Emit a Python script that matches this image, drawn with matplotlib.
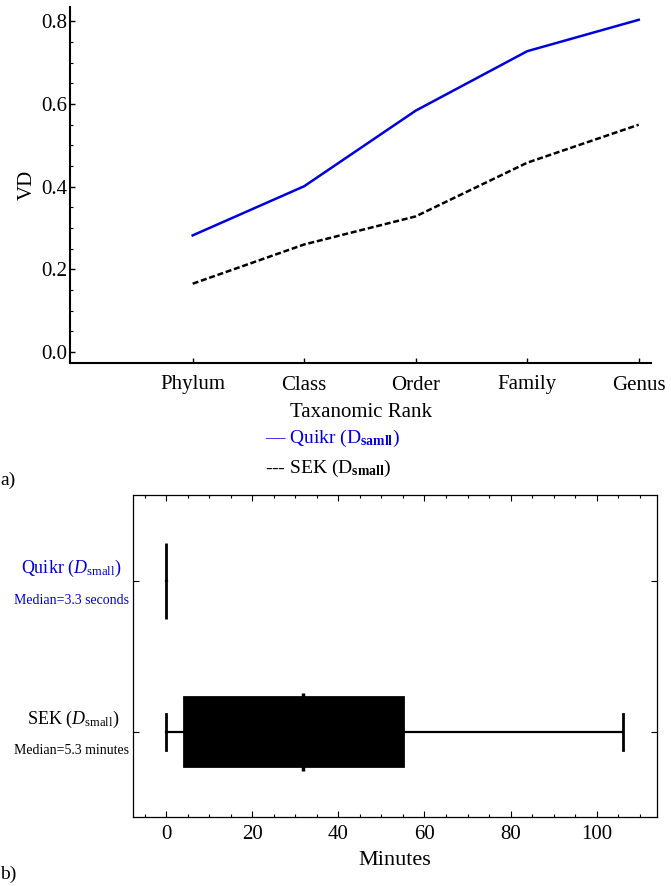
import matplotlib
matplotlib.use("Agg")
import matplotlib.pyplot as plt
from matplotlib.ticker import FormatStrFormatter, MultipleLocator

plt.rcParams["font.family"] = ["Liberation Serif", "DejaVu Serif"]
plt.rcParams["mathtext.fontset"] = "custom"
plt.rcParams["mathtext.rm"] = "Liberation Serif"
plt.rcParams["mathtext.it"] = "Liberation Serif:italic"
plt.rcParams["mathtext.bf"] = "Liberation Serif:bold"

# (a) variational distance per taxonomic rank
ranks = ["Phylum", "Class", "Order", "Family", "Genus"]
quikr_vd = [0.282, 0.401, 0.584, 0.728, 0.804]
sek_vd = [0.165, 0.260, 0.328, 0.458, 0.550]

# (b) running time in minutes: low whisker, q1, median line, q3, high whisker
rows = ["SEK", "Quikr"]
sek_minutes = [0.0, 4.2, 31.8, 55.0, 106.0]
quikr_minutes = [0.03, 0.045, 0.055, 0.07, 0.1]

W, H = 671, 886
fig = plt.figure(figsize=(W / 100, H / 100), dpi=100)

blue = "#0000dd"

# ---- top panel
ax1 = fig.add_axes([70 / W, 1 - 363 / H, (651 - 70) / W, (363 - 7) / H])
x = list(range(len(ranks)))
ax1.plot(x, quikr_vd, color=blue, lw=1.8)
ax1.plot(x, sek_vd, color="black", lw=1.8, ls=(0, (2.4, 1.1)))
ax1.set_xlim(-1.10, 4.11)
ax1.set_ylim(-0.027, 0.835)
ax1.spines["top"].set_visible(False)
ax1.spines["right"].set_visible(False)
for side in ("left", "bottom"):
    ax1.spines[side].set_linewidth(1.5)
ax1.set_xticks(x, ranks)
ax1.yaxis.set_major_locator(MultipleLocator(0.2))
ax1.yaxis.set_minor_locator(MultipleLocator(0.05))
ax1.yaxis.set_major_formatter(FormatStrFormatter("%.1f"))
ax1.tick_params(which="major", direction="in", length=3.5, width=1, labelsize=15)
ax1.tick_params(axis="x", pad=9)
ax1.tick_params(axis="y", pad=2)
ax1.tick_params(which="minor", direction="in", length=2, width=0.8)
ax1.set_ylabel("VD", fontsize=15, labelpad=3)
ax1.set_xlabel("Taxanomic Rank", fontsize=15, labelpad=6)

fig.text(265 / W, 1 - 438 / H, r"— Quikr (D$_{\mathbf{samll}}$)", color=blue,
         fontsize=14, ha="left", va="center")
fig.text(265 / W, 1 - 468 / H, r"--- SEK (D$_{\mathbf{small}}$)", color="black",
         fontsize=14, ha="left", va="center")
fig.text(0, 1 - 480 / H, "a)", fontsize=14, ha="left", va="center")

# ---- bottom panel
ax2 = fig.add_axes([133 / W, 1 - 817 / H, (657 - 133) / W, (817 - 495) / H])
stats = []
for label, vals in zip(rows, [sek_minutes, quikr_minutes]):
    lo, q1, med, q3, hi = vals
    stats.append(dict(label=label, whislo=lo, q1=q1, med=med, q3=q3,
                      whishi=hi, fliers=[]))
ax2.bxp(stats, positions=[1, 2], widths=[0.46, 0.51], orientation="horizontal",
        patch_artist=True, showfliers=False, capwidths=[0.24, 0.0],
        boxprops=dict(facecolor="black", edgecolor="black", lw=2),
        whiskerprops=dict(color="black", lw=1.6),
        capprops=dict(color="black", lw=2),
        medianprops=dict(visible=False))
ax2.vlines(sek_minutes[2], 1 - 0.26, 1 + 0.26, color="black", lw=2.5)

ax2.set_xlim(-7.7, 114)
ax2.set_ylim(0.434, 2.571)
for sp in ax2.spines.values():
    sp.set_linewidth(0.9)
ax2.xaxis.set_major_locator(MultipleLocator(20))
ax2.xaxis.set_minor_locator(MultipleLocator(5))
ax2.set_yticks([1, 2])
ax2.tick_params(which="both", direction="in", top=True, right=True,
                labelleft=False, width=0.8)
ax2.tick_params(which="major", length=4.5, labelsize=15, pad=6)
ax2.tick_params(which="minor", length=2.5)
ax2.set_xlabel("Minutes", fontsize=16, labelpad=5)

fig.text(71 / W, 1 - 568 / H, r"Quikr ($D_{\mathrm{small}}$)", color=blue,
         fontsize=13, ha="center", va="center")
fig.text(71 / W, 1 - 600 / H, "Median=3.3 seconds", color=blue,
         fontsize=10, ha="center", va="center")
fig.text(73 / W, 1 - 719 / H, r"SEK ($D_{\mathrm{small}}$)", color="black",
         fontsize=13, ha="center", va="center")
fig.text(72 / W, 1 - 750 / H, "Median=5.3 minutes", color="black",
         fontsize=10, ha="center", va="center")
fig.text(0, 1 - 874 / H, "b)", fontsize=14, ha="left", va="center")

fig.savefig("out.png", dpi=100)
